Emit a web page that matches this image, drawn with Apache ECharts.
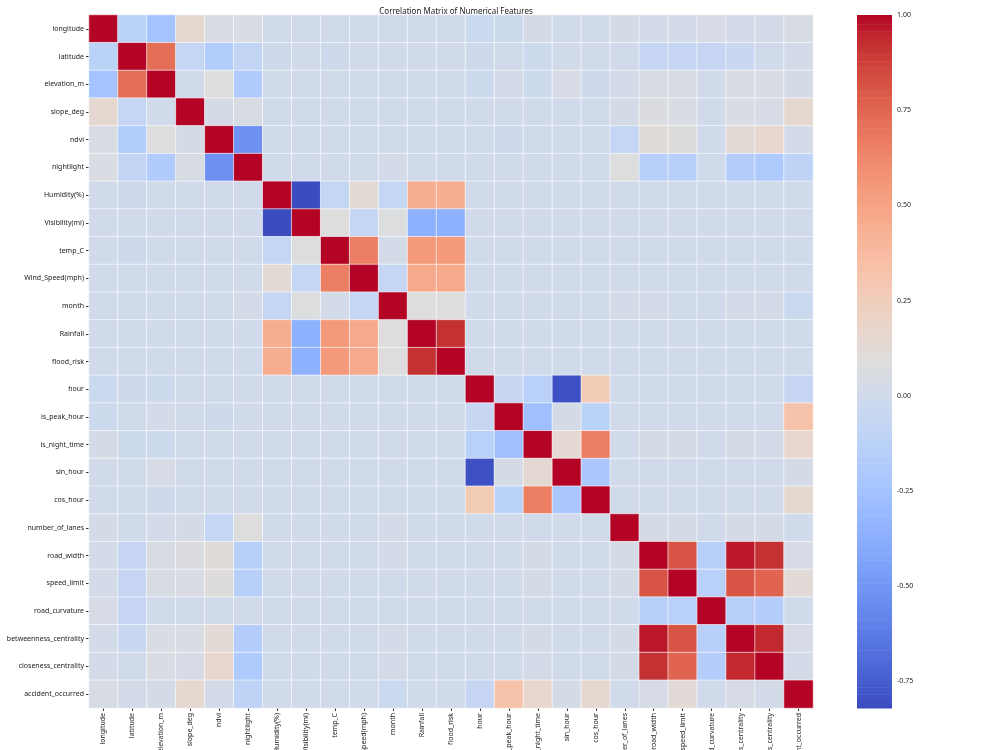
<!DOCTYPE html>
<html>
<head>
<meta charset="utf-8">
<title>Correlation Matrix of Numerical Features</title>
<script src="https://cdn.jsdelivr.net/npm/echarts@6/dist/echarts.min.js"></script>
<style>
  html, body { margin: 0; background: #fff; }
  #chart { width: 1000px; height: 750px; }
</style>
</head>
<body>
<div id="chart"></div>
<script>
// feature names, same order on both axes
const features = [
  "longitude", "latitude", "elevation_m", "slope_deg", "ndvi", "nightlight",
  "Humidity(%)", "Visibility(mi)", "temp_C", "Wind_Speed(mph)", "month",
  "Rainfall", "flood_risk", "hour", "is_peak_hour", "is_night_time",
  "sin_hour", "cos_hour", "number_of_lanes", "road_width", "speed_limit",
  "road_curvature", "betweenness_centrality", "closeness_centrality",
  "accident_occurred"
];

// lower triangle of the correlation matrix (row i holds columns 0..i)
const lower = [
  [1],
  [-0.12, 1],
  [-0.24, 0.72, 1],
  [0.15, -0.07, 0.00, 1],
  [0.06, -0.17, 0.09, 0.03, 1],
  [0.06, -0.08, -0.18, 0.05, -0.52, 1],
  [0.00, -0.01, 0.00, 0.00, 0.00, 0.00, 1],
  [0.00, 0.00, 0.00, 0.00, 0.00, 0.00, -0.82, 1],
  [0.00, -0.01, 0.00, 0.00, 0.00, 0.00, -0.07, 0.09, 1],
  [0.00, 0.00, 0.00, 0.00, 0.00, 0.00, 0.13, -0.07, 0.66, 1],
  [0.00, 0.00, 0.00, 0.00, 0.00, 0.02, -0.07, 0.08, 0.02, -0.07, 1],
  [0.00, 0.00, 0.00, 0.00, 0.00, 0.00, 0.45, -0.36, 0.55, 0.47, 0.09, 1],
  [0.00, 0.00, 0.00, 0.00, 0.00, 0.00, 0.45, -0.36, 0.55, 0.47, 0.09, 0.92, 1],
  [-0.03, -0.01, -0.02, 0.00, 0.00, 0.00, 0.00, 0.00, 0.00, 0.00, 0.00, 0.00, 0.00, 1],
  [-0.02, 0.00, 0.02, 0.01, -0.01, 0.01, 0.00, 0.00, 0.00, 0.00, 0.00, 0.00, 0.00, -0.05, 1],
  [0.03, -0.02, -0.02, 0.00, 0.00, 0.00, 0.00, 0.00, 0.00, 0.00, 0.01, 0.00, 0.00, -0.13, -0.27, 1],
  [0.01, 0.01, 0.04, 0.00, 0.00, 0.00, 0.00, 0.00, 0.00, 0.00, 0.00, 0.00, 0.00, -0.80, 0.03, 0.14, 1],
  [0.00, 0.00, -0.01, 0.00, 0.00, 0.00, 0.00, 0.00, 0.00, 0.00, 0.00, 0.00, 0.00, 0.27, -0.12, 0.66, -0.21, 1],
  [0.03, 0.00, 0.02, 0.03, -0.07, 0.09, 0.00, 0.00, 0.00, 0.00, 0.02, 0.00, 0.00, 0.00, 0.00, 0.00, 0.00, 0.01, 1],
  [0.02, -0.06, 0.05, 0.07, 0.11, -0.14, 0.00, 0.00, 0.00, 0.00, 0.02, 0.00, 0.00, 0.00, 0.00, 0.03, 0.00, 0.01, 0.03, 1],
  [0.02, -0.06, 0.05, 0.06, 0.10, -0.14, 0.00, 0.01, 0.00, 0.00, 0.00, 0.01, 0.00, 0.00, 0.00, 0.03, 0.00, 0.01, 0.03, 0.81, 1],
  [0.04, -0.06, 0.00, 0.00, 0.00, 0.00, 0.00, 0.00, 0.00, 0.00, 0.00, 0.00, 0.00, 0.00, 0.00, 0.00, 0.00, 0.00, 0.00, -0.14, -0.13, 1],
  [0.02, -0.04, 0.06, 0.06, 0.13, -0.16, 0.00, 0.00, 0.00, 0.00, 0.02, 0.00, 0.00, 0.00, 0.00, 0.03, 0.00, 0.01, 0.03, 0.97, 0.81, -0.14, 1],
  [0.02, 0.00, 0.06, 0.04, 0.16, -0.19, 0.00, 0.00, 0.00, 0.00, 0.02, 0.00, 0.00, 0.00, 0.00, 0.02, 0.00, 0.01, 0.03, 0.92, 0.76, -0.16, 0.94, 1],
  [0.05, 0.02, 0.03, 0.15, 0.02, -0.10, 0.00, 0.00, 0.00, 0.00, -0.03, 0.00, 0.00, -0.06, 0.33, 0.16, 0.03, 0.15, 0.00, 0.04, 0.12, 0.00, 0.04, 0.02, 1]
];

// colorbar tick labels
const colorbarTicks = [-0.75, -0.5, -0.25, 0, 0.25, 0.5, 0.75, 1.0];

// coolwarm colormap
const coolwarm = [
  "#3b4cc0", "#445acc", "#4d68d7", "#5775e1", "#6282ea", "#6c8ef1", "#779af7", "#82a5fb",
  "#8db0fe", "#98b9ff", "#a3c2ff", "#aec9fd", "#b8d0f9", "#c2d5f4", "#ccd9ee", "#d5dbe6",
  "#dddddd", "#e5d8d1", "#ecd3c5", "#f1ccb9", "#f5c4ad", "#f7bba0", "#f7b194", "#f7a687",
  "#f49a7b", "#f18d6f", "#ec7f63", "#e57058", "#de604d", "#d55042", "#cb3e38", "#c0282f",
  "#b40426"
];

const n = features.length;
const cells = [];
let vmin = 1, vmax = -1;
for (let i = 0; i < n; i++) {
  for (let j = 0; j < n; j++) {
    const v = i >= j ? lower[i][j] : lower[j][i];
    cells.push([j, i, v]);
    vmin = Math.min(vmin, v);
    vmax = Math.max(vmax, v);
  }
}

// thin strips for the colorbar, coloured by the same visualMap
const steps = 300;
const strips = [];
for (let k = 0; k < steps; k++) {
  const lo = vmin + (vmax - vmin) * k / steps;
  const hi = vmin + (vmax - vmin) * (k + 1) / steps;
  strips.push([lo, hi, (lo + hi) / 2]);
}

const font = "Noto Sans";
const chart = echarts.init(document.getElementById("chart"));
chart.setOption({
  animation: false,
  backgroundColor: "#fff",
  textStyle: { fontFamily: font },
  title: {
    text: "Correlation Matrix of Numerical Features",
    left: 451,
    top: 3,
    textAlign: "center",
    textStyle: { fontSize: 8, fontWeight: "normal", color: "#222", fontFamily: font }
  },
  grid: [
    { left: 89, top: 15, width: 724, height: 693, containLabel: false, outerBoundsMode: "none" },
    { left: 857, top: 15, width: 35, height: 693, containLabel: false, outerBoundsMode: "none" }
  ],
  xAxis: [
    {
      type: "category",
      data: features,
      gridIndex: 0,
      axisLine: { show: false },
      axisTick: { show: true, length: 3, alignWithLabel: true, lineStyle: { color: "#333" } },
      axisLabel: { rotate: 90, interval: 0, fontSize: 7, color: "#222", margin: 5 },
      splitLine: { show: false }
    },
    { type: "value", gridIndex: 1, min: 0, max: 1, show: false }
  ],
  yAxis: [
    {
      type: "category",
      data: features,
      inverse: true,
      gridIndex: 0,
      axisLine: { show: false },
      axisTick: { show: true, length: 3, alignWithLabel: true, lineStyle: { color: "#333" } },
      axisLabel: { interval: 0, fontSize: 7, color: "#222", margin: 5 },
      splitLine: { show: false }
    },
    {
      type: "value",
      gridIndex: 1,
      position: "right",
      min: vmin,
      max: vmax,
      axisLine: { show: false },
      splitLine: { show: false },
      axisTick: { show: true, length: 3, customValues: colorbarTicks, lineStyle: { color: "#333" } },
      axisLabel: {
        customValues: colorbarTicks,
        fontSize: 7,
        color: "#222",
        margin: 5,
        formatter: (v) => v.toFixed(2)
      }
    }
  ],
  visualMap: {
    type: "continuous",
    show: false,
    min: vmin,
    max: vmax,
    dimension: 2,
    seriesIndex: [0, 1],
    inRange: { color: coolwarm }
  },
  series: [
    {
      type: "heatmap",
      xAxisIndex: 0,
      yAxisIndex: 0,
      data: cells,
      itemStyle: { borderColor: "#fff", borderWidth: 0.6 },
      emphasis: { disabled: true }
    },
    {
      type: "custom",
      xAxisIndex: 1,
      yAxisIndex: 1,
      data: strips,
      encode: { y: [0, 1] },
      clip: false,
      silent: true,
      renderItem: function (params, api) {
        const cs = params.coordSys;
        const top = api.coord([0, api.value(1)]);
        const bot = api.coord([0, api.value(0)]);
        return {
          type: "rect",
          shape: { x: cs.x, y: top[1], width: cs.width, height: bot[1] - top[1] + 0.6 },
          style: { fill: api.visual("color") }
        };
      }
    }
  ]
});
</script>
</body>
</html>
